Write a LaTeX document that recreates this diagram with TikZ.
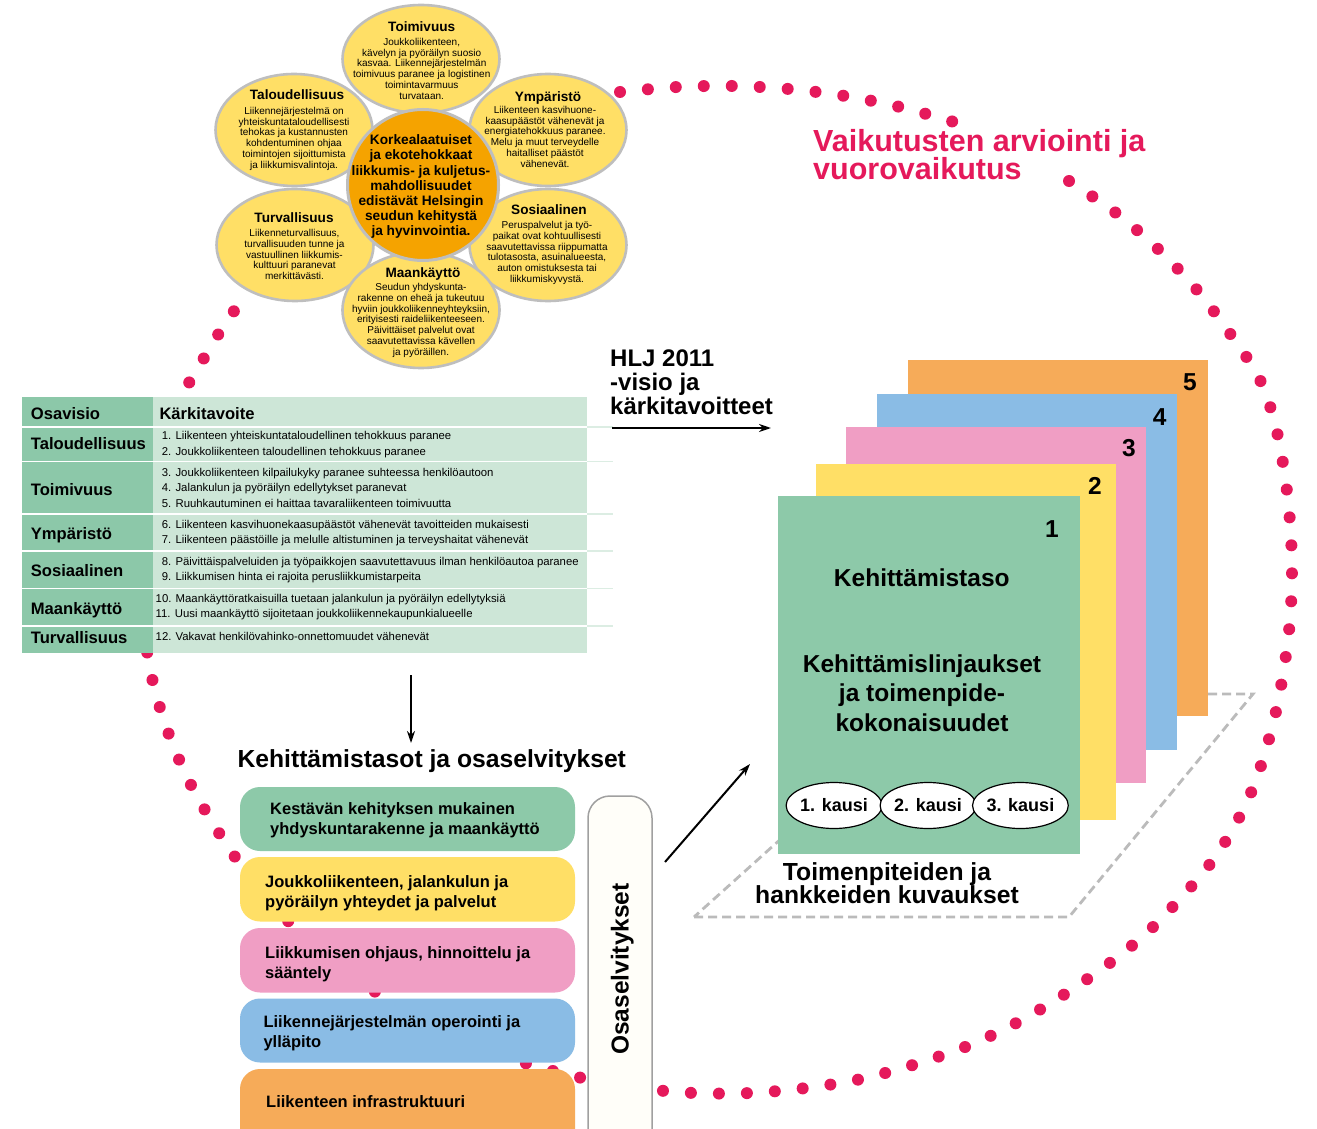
\documentclass[tikz,border=0pt]{standalone}
\usepackage{fontspec}
\setmainfont{Liberation Sans}
\usetikzlibrary{arrows.meta,shapes.geometric}
\definecolor{petalyel}{HTML}{FFDF66}
\definecolor{coreorange}{HTML}{F5A300}
\definecolor{rimgray}{HTML}{BEBEBE}
\definecolor{tabdark}{HTML}{8CC8A9}
\definecolor{tablight}{HTML}{CDE6D7}
\definecolor{tabsep}{HTML}{DCEDE3}
\definecolor{cgreen}{HTML}{8DC9A9}
\definecolor{cyellow}{HTML}{FFDF66}
\definecolor{cpink}{HTML}{F09EC4}
\definecolor{cblue}{HTML}{8ABCE5}
\definecolor{corange}{HTML}{F6AB59}
\definecolor{dotred}{HTML}{E5195B}
\definecolor{dashgray}{HTML}{BBBBBB}
\definecolor{sidefill}{HTML}{FFFEF9}
\definecolor{sidegray}{HTML}{A0A0A0}
\newcommand{\fsz}[2]{\fontsize{#1}{#2}\selectfont}
\newcommand{\mlc}[1]{\vtop{\lineskiplimit=-200pt\relax\halign{\hfil##\hfil\cr#1\crcr}}}
\newcommand{\mll}[1]{\vtop{\lineskiplimit=-200pt\relax\halign{##\hfil\cr#1\crcr}}}
\begin{document}
\begin{tikzpicture}[x=1pt,y=-1pt,
  petalshape/.style={ellipse, fill=petalyel, draw=rimgray, line width=2.6pt, minimum width=157pt, minimum height=112pt, inner sep=0pt},
  ptitle/.style={anchor=base, inner sep=0pt, font=\fsz{13.6}{15}\bfseries},
  pbody/.style={anchor=base, inner sep=0pt, font=\fsz{10}{10.75}},
  coretext/.style={anchor=base, inner sep=0pt, font=\fsz{13.7}{15.2}\bfseries},
  tablabel/.style={anchor=base west, inner sep=0pt, font=\fsz{16.6}{18}\bfseries},
  tabitem/.style={anchor=base west, inner sep=0pt, font=\fsz{11.35}{12}},
  devbox/.style={rounded corners=20pt},
  devtext/.style={anchor=base west, inner sep=0pt, font=\fsz{16.5}{20}\bfseries},
  bigbold/.style={inner sep=0pt, font=\fsz{24.5}{29.5}\bfseries},
  cardnum/.style={anchor=base, inner sep=0pt, font=\fsz{24.5}{26}\bfseries},
  kausishape/.style={ellipse, fill=white, draw=black, line width=1.2pt, minimum width=86pt, minimum height=46pt, inner sep=0pt, font=\fsz{18}{20}\bfseries},
  flowarrow/.style={draw=black, line width=2pt, -{Stealth[length=12pt,width=8pt]}},
  ringdots/.style={dotred, line width=12pt, line cap=round, dash pattern=on 0pt off 28pt},
]
\fill[white] (0,0) rectangle (1317,1129);
\useasboundingbox (0,0) rectangle (1317,1129);

% ---------- dotted ring ----------
\draw[ringdots] plot[smooth, tension=0.55] coordinates {(620,92) (677,87) (733,86) (789,89) (845,96) (900,107) (954,122)};
\draw[ringdots] plot[smooth, tension=0.55] coordinates {(1069,181) (1116,213) (1158,249) (1197,290) (1231,335) (1260,380) (1277,432) (1288,500) (1292,570) (1288,640) (1274,720) (1250,795) (1213,860) (1157,923) (1115,959) (1068,992) (1020,1021) (970,1045) (916,1064) (861,1079) (806,1088) (750,1093) (694,1093) (638,1088) (582,1078) (528,1064) (470,1044) (420,1020) (377,993) (330,960) (289,922) (252,880) (219,833) (190,783) (168,732) (152,678) (143,620) (141,560) (146,500) (158,440) (175,405) (192,378) (221,330) (237,307)};

% ---------- flower ----------
\node[petalshape, minimum height=108pt] (pToim) at (421,59) {};
\node[petalshape] (pTal) at (294,130) {};
\node[petalshape] (pYmp) at (548,130) {};
\node[petalshape] (pTur) at (295,245) {};
\node[petalshape] (pSos) at (548,245) {};
\node[petalshape, minimum height=116pt] (pMaa) at (421,310) {};
\node[circle, fill=coreorange, draw=rimgray, line width=3pt, minimum size=151pt, inner sep=0pt] (core) at (423,185) {};

\node[ptitle] (pToimT) at (421.7,31.8) {Toimivuus};
\node[pbody] (pToimB) at (421.7,45.5) {\mlc{Joukkoliikenteen,\cr kävelyn ja pyöräilyn suosio\cr kasvaa. Liikennejärjestelmän\cr toimivuus paranee ja logistinen\cr toimintavarmuus\cr turvataan.}};
\node[ptitle] (pTalT) at (297,99.5) {Taloudellisuus};
\node[pbody] (pTalB) at (294,114.3) {\mlc{Liikennejärjestelmä on\cr yhteiskuntataloudellisesti\cr tehokas ja kustannusten\cr kohdentuminen ohjaa\cr toimintojen sijoittumista\cr ja liikkumisvalintoja.}};
\node[ptitle] (pYmpT) at (548,101.8) {Ympäristö};
\node[pbody] (pYmpB) at (545,113.5) {\mlc{Liikenteen kasvihuone-\cr kaasupäästöt vähenevät ja\cr energiatehokkuus paranee.\cr Melu ja muut terveydelle\cr haitalliset päästöt\cr vähenevät.}};
\node[ptitle] (pSosT) at (549,214.8) {Sosiaalinen};
\node[pbody] (pSosB) at (547,228.5) {\mlc{Peruspalvelut ja työ-\cr paikat ovat kohtuullisesti\cr saavutettavissa riippumatta\cr tulotasosta, asuinalueesta,\cr auton omistuksesta tai\cr liikkumiskyvystä.}};
\node[ptitle] (pTurT) at (294,222.8) {Turvallisuus};
\node[pbody] (pTurB) at (294.5,236.5) {\mlc{Liikenneturvallisuus,\cr turvallisuuden tunne ja\cr vastuullinen liikkumis-\cr kulttuuri paranevat\cr merkittävästi.}};
\node[ptitle] (pMaaT) at (423,277.5) {Maankäyttö};
\node[pbody] (pMaaB) at (421,290.5) {\mlc{Seudun yhdyskunta-\cr rakenne on eheä ja tukeutuu\cr hyviin joukkoliikenneyhteyksiin,\cr erityisesti raideliikenteeseen.\cr Päivittäiset palvelut ovat\cr saavutettavissa kävellen\cr ja pyöräillen.}};
\node[coretext] (coreT) at (421,144.8) {\mlc{Korkealaatuiset\cr ja ekotehokkaat\cr liikkumis- ja kuljetus-\cr mahdollisuudet\cr edistävät Helsingin\cr seudun kehitystä\cr ja hyvinvointia.}};

% ---------- table ----------
\fill[tabdark] (22,397) rectangle (153,653);
\fill[tablight] (153,397) rectangle (587,653);
\foreach \yy in {427,461.5,514,551,588.5,626}{
  \draw[white, line width=1.8pt] (22,\yy) -- (587,\yy);
  \draw[tabsep, line width=1.8pt] (587,\yy) -- (613,\yy);
}
\node[tablabel] (hOsa) at (30.7,419) {Osavisio};
\node[tablabel] (hKar) at (159.3,419) {Kärkitavoite};
\node[tablabel] (lTal) at (30.7,449) {Taloudellisuus};
\node[tablabel] (lToi) at (30.7,495.5) {Toimivuus};
\node[tablabel] (lYmp) at (30.7,539.5) {Ympäristö};
\node[tablabel] (lSos) at (30.7,576.5) {Sosiaalinen};
\node[tablabel] (lMaa) at (30.7,614.5) {Maankäyttö};
\node[tablabel] (lTur) at (30.7,643.3) {Turvallisuus};
\node[tabitem] (k1) at (161.7,439.5) {1. Liikenteen yhteiskuntataloudellinen tehokkuus paranee};
\node[tabitem] (k2) at (161.7,455) {2. Joukkoliikenteen taloudellinen tehokkuus paranee};
\node[tabitem] (k3) at (161.7,476.7) {3. Joukkoliikenteen kilpailukyky paranee suhteessa henkilöautoon};
\node[tabitem] (k4) at (161.7,491.7) {4. Jalankulun ja pyöräilyn edellytykset paranevat};
\node[tabitem] (k5) at (161.7,507.7) {5. Ruuhkautuminen ei haittaa tavaraliikenteen toimivuutta};
\node[tabitem] (k6) at (161.7,528.3) {6. Liikenteen kasvihuonekaasupäästöt vähenevät tavoitteiden mukaisesti};
\node[tabitem] (k7) at (161.7,543.7) {7. Liikenteen päästöille ja melulle altistuminen ja terveyshaitat vähenevät};
\node[tabitem] (k8) at (161.7,565.7) {8. Päivittäispalveluiden ja työpaikkojen saavutettavuus ilman henkilöautoa paranee};
\node[tabitem] (k9) at (161.7,580.7) {9. Liikkumisen hinta ei rajoita perusliikkumistarpeita};
\node[tabitem] (k10) at (155.5,602.3) {10. Maankäyttöratkaisuilla tuetaan jalankulun ja pyöräilyn edellytyksiä};
\node[tabitem] (k11) at (155.5,617.7) {11. Uusi maankäyttö sijoitetaan joukkoliikennekaupunkialueelle};
\node[tabitem] (k12) at (155.5,640.7) {12. Vakavat henkilövahinko-onnettomuudet vähenevät};

% ---------- HLJ label and arrows ----------
\node[anchor=base west, inner sep=0pt, font=\fsz{24}{24}\bfseries] (hlj) at (610,366) {\mll{HLJ 2011\cr -visio ja\cr kärkitavoitteet}};
\coordinate (hljS) at (612,428);
\coordinate (hljE) at (771,428);
\draw[flowarrow] (hljS) -- (hljE);
\coordinate (downS) at (411,675);
\coordinate (downE) at (411,743);
\draw[flowarrow] (downS) -- (downE);
\coordinate (diagS) at (665,862);
\coordinate (diagE) at (750,764);
\draw[flowarrow] (diagS) -- (diagE);

% ---------- title ----------
\node[anchor=base west, inner sep=0pt, text=dotred, font=\fsz{30.5}{28}\bfseries] (title) at (813,151.5) {\mll{Vaikutusten arviointi ja\cr vuorovaikutus}};

% ---------- development levels ----------
\node[anchor=base west, inner sep=0pt, font=\fsz{24.7}{28}\bfseries] (devHead) at (237.3,767.3) {Kehittämistasot ja osaselvitykset};
\fill[cgreen, devbox] (240,787) rectangle (575,851);
\fill[cyellow, devbox] (240,857) rectangle (575,921.5);
\fill[cpink, devbox] (240,928) rectangle (575,992.5);
\fill[cblue, devbox] (240,998.5) rectangle (575,1062.5);
\fill[corange, devbox] (240,1069) rectangle (575,1170);
\node[devtext] (dGreen) at (270,814) {\mll{Kestävän kehityksen mukainen\cr yhdyskuntarakenne ja maankäyttö}};
\node[devtext] (dYel) at (265,887.3) {\mll{Joukkoliikenteen, jalankulun ja\cr pyöräilyn yhteydet ja palvelut}};
\node[devtext] (dPink) at (265,958.3) {\mll{Liikkumisen ohjaus, hinnoittelu ja\cr sääntely}};
\node[devtext] (dBlue) at (263.3,1027.3) {\mll{Liikennejärjestelmän operointi ja\cr ylläpito}};
\node[devtext] (dOra) at (266,1107.7) {Liikenteen infrastruktuuri};

\draw[fill=sidefill, draw=sidegray, line width=1.5pt, rounded corners=22pt] (588,796) rectangle (652,1175);
\node[rotate=90, anchor=base, inner sep=0pt, font=\fsz{24.5}{28}\bfseries] (sideT) at (628.5,969) {Osaselvitykset};

% ---------- dashed plane ----------
\coordinate (plBL) at (694,917);
\coordinate (plBR) at (1069,917);
\coordinate (plTR) at (1253,694);
\coordinate (plTL) at (942,694);
\draw[dashgray, line width=2.8pt, dash pattern=on 9pt off 5pt] (plBL) -- (plBR) -- (plTR) -- (plTL) -- cycle;

% ---------- stacked cards ----------
\fill[corange] (908,360) rectangle (1208,716);
\fill[cblue] (877,394) rectangle (1177,750);
\fill[cpink] (846,427) rectangle (1146,783);
\fill[cyellow] (816,464) rectangle (1116,820);
\fill[cgreen] (778,496) rectangle (1080,854);
\node[cardnum] (n5) at (1190,390.8) {5};
\node[cardnum] (n4) at (1159.6,425.7) {4};
\node[cardnum] (n3) at (1129,456.5) {3};
\node[cardnum] (n2) at (1095,494) {2};
\node[cardnum] (n1) at (1052,537) {1};
\node[bigbold, anchor=base] (kTaso) at (921.8,586) {Kehittämistaso};
\node[bigbold, anchor=base] (kLinj) at (922,672) {\mlc{Kehittämislinjaukset\cr ja toimenpide-\cr kokonaisuudet}};
\node[kausishape] (kau1) at (834,805.5) {1. kausi};
\node[kausishape] (kau2) at (928,805.5) {2. kausi};
\node[kausishape] (kau3) at (1020.4,805.5) {3. kausi};
\node[anchor=base, inner sep=0pt, font=\fsz{24.7}{22.5}\bfseries] (toimT) at (887,880.5) {\mlc{Toimenpiteiden ja\cr hankkeiden kuvaukset}};
\end{tikzpicture}
\end{document}
